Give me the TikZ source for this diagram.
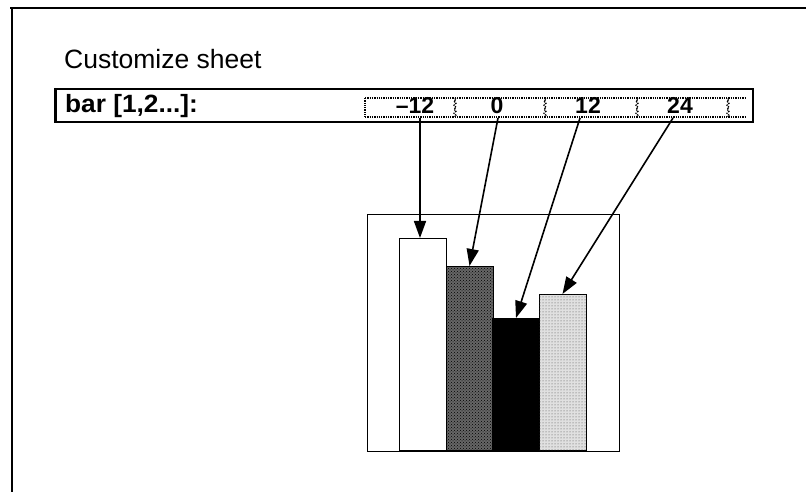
\documentclass[tikz,border=0pt]{standalone}
\usepackage{fontspec}
\setmainfont{Liberation Sans}
\usetikzlibrary{arrows.meta,patterns,decorations.pathmorphing}
\begin{document}
\begin{tikzpicture}[x=1pt,y=-1pt,
  frameline/.style={line width=1.8pt},
  numtext/.style={inner sep=0pt,font=\bfseries\fontsize{23}{23}\selectfont},
  cellsep/.style={densely dotted,line width=1.3pt},
  barbox/.style={draw,line width=1pt,minimum width=47pt,inner sep=0pt,anchor=south},
  ptr/.style={line width=1.6pt,-{Triangle[length=17pt,width=12pt]}}]
\useasboundingbox (0,0) rectangle (807,492);
% outer frame
\draw[frameline] (10,8) -- (806,8);
\draw[frameline] (12,8) -- (12,492);
\node[anchor=base west,font=\fontsize{26.5}{26.5}\selectfont,inner sep=0pt] (title) at (64,69) {Customize sheet};
% bar field
\node[draw,line width=1.6pt,minimum width=697pt,minimum height=33pt,inner sep=0pt,anchor=north west] (field) at (55,88) {};
\draw[line width=2.6pt] (field.north west) -- (field.south west);
\node[anchor=base west,inner sep=0pt,font=\bfseries\fontsize{25}{25}\selectfont] (lbl) at (65,113) {\scalebox{1.05}[1]{bar [1,2...]:}};
\draw[cellsep] (365,98) -- (745,98);
\draw[cellsep] (365,117) -- (745,117);
\draw[cellsep] (365,98) -- (365,117);
\foreach \x in {455,545,637,728}{
  \draw[cellsep,decorate,decoration={snake,amplitude=1pt,segment length=4pt}] (\x,98) -- (\x,117);}
\node[numtext,anchor=base] (c1) at (415,114) {–12};
\node[numtext,anchor=base] (c2) at (497,114) {0};
\node[numtext,anchor=base] (c3) at (588,114) {12};
\node[numtext,anchor=base] (c4) at (680,114) {24};
\coordinate (s1) at (420,118);
\coordinate (s2) at (498,118);
\coordinate (s3) at (580,118);
\coordinate (s4) at (673,118);
% chart
\node[draw,line width=1pt,minimum width=252pt,minimum height=237pt,inner sep=0pt,anchor=north west] (chart) at (367,214) {};
\node[barbox,fill=white,minimum height=212pt] (b1) at (422.5,451) {};
\node[barbox,fill=black!60,postaction={pattern=crosshatch dots,pattern color=black},minimum height=184pt] (b2) at (469.5,451) {};
\node[barbox,fill=black,minimum height=132pt] (b3) at (516,451) {};
\node[barbox,fill=black!12,postaction={pattern=dots,pattern color=black!70},minimum height=156pt] (b4) at (562.5,451) {};
\draw[ptr] (s1) -- (s1 |- b1.north);
\draw[ptr] (s2) -- (b2.north);
\draw[ptr] (s3) -- (b3.north);
\draw[ptr] (s4) -- (b4.north);
\end{tikzpicture}
\end{document}
